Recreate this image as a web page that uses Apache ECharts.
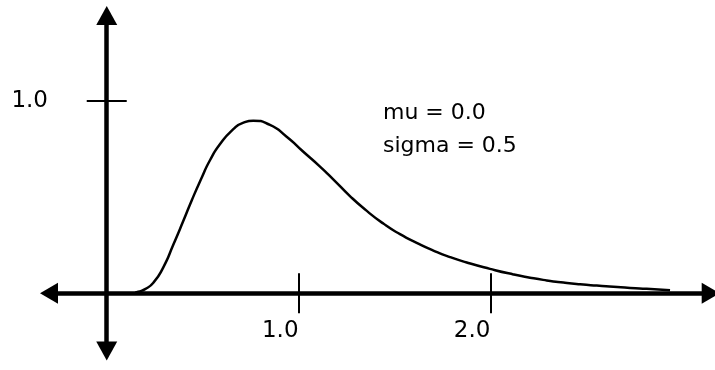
<!DOCTYPE html>
<html>
<head>
<meta charset="utf-8">
<script src="https://cdn.jsdelivr.net/npm/echarts@6/dist/echarts.min.js"></script>
<style>
html,body{margin:0;padding:0;background:#fff;}
#c{width:715px;height:370px;}
</style>
</head>
<body>
<div id="c"></div>
<script>
// values
const xValues = [0.148, 0.165, 0.2, 0.243, 0.295, 0.347, 0.399, 0.443, 0.495, 0.539, 0.591, 0.66, 0.71, 0.764, 0.851, 0.938, 1.025, 1.112, 1.181, 1.268, 1.356, 1.442, 1.529, 1.616, 1.703, 1.79, 1.877, 1.998, 2.12, 2.207, 2.294, 2.381, 2.468, 2.555, 2.642, 2.729, 2.815, 2.937];
const yValues = [0.003, 0.008, 0.022, 0.055, 0.135, 0.252, 0.375, 0.482, 0.6, 0.692, 0.775, 0.852, 0.885, 0.896, 0.874, 0.813, 0.735, 0.658, 0.592, 0.505, 0.428, 0.362, 0.307, 0.262, 0.222, 0.188, 0.16, 0.127, 0.098, 0.081, 0.067, 0.056, 0.047, 0.04, 0.034, 0.028, 0.023, 0.016];
const xTicks = [1, 2];
const yTicks = [1];
const annotation = ['mu = 0.0', 'sigma = 0.5'];

const xMin = -0.301, xMax = 3.149;
const yMin = -0.2996, yMax = 1.4424;
const FONT = 'DejaVu Sans';

const chart = echarts.init(document.getElementById('c'), null, {renderer: 'canvas'});
const fmt = v => Number(v).toFixed(1);

const baseX = {
  type: 'value', min: xMin, max: xMax,
  splitLine: {show: false}
};
const baseY = {
  type: 'value', min: yMin, max: yMax,
  splitLine: {show: false}
};

chart.setOption({
  animation: false,
  backgroundColor: '#fff',
  title: {
    text: annotation.join('\n'),
    left: 383, top: 97, padding: 0,
    textStyle: {fontFamily: FONT, fontSize: 22, fontWeight: 'normal', color: '#000', lineHeight: 33}
  },
  grid: {left: 49, right: 4.3, top: 15.5, bottom: 19, containLabel: false, outerBoundsMode: 'none'},
  xAxis: [
    Object.assign({}, baseX, {
      position: 'bottom',
      axisLine: {show: true, onZero: true, onZeroAxisIndex: 0,
        symbol: ['triangle', 'triangle'], symbolSize: [21, 18],
        lineStyle: {color: '#000', width: 4.5}},
      axisTick: {show: true, customValues: xTicks, length: 20, inside: false,
        lineStyle: {color: '#000', width: 2}},
      axisLabel: {show: true, customValues: xTicks, formatter: fmt, align: 'right',
        verticalAlign: 'top', margin: -31,
        fontFamily: FONT, fontSize: 23, color: '#000'}
    }),
    Object.assign({}, baseX, {
      position: 'top',
      axisLine: {show: false, onZero: true, onZeroAxisIndex: 0},
      axisTick: {show: true, customValues: xTicks, length: 20, inside: false,
        lineStyle: {color: '#000', width: 2}},
      axisLabel: {show: false}
    })
  ],
  yAxis: [
    Object.assign({}, baseY, {
      position: 'left',
      axisLine: {show: true, onZero: true, onZeroAxisIndex: 0,
        symbol: ['triangle', 'triangle'], symbolSize: [21, 19],
        lineStyle: {color: '#000', width: 4.5}},
      axisTick: {show: true, customValues: yTicks, length: 20, inside: false,
        lineStyle: {color: '#000', width: 2}},
      axisLabel: {show: true, customValues: yTicks, formatter: fmt, margin: 1,
        fontFamily: FONT, fontSize: 23, color: '#000'}
    }),
    Object.assign({}, baseY, {
      position: 'right',
      axisLine: {show: false, onZero: true, onZeroAxisIndex: 0},
      axisTick: {show: true, customValues: yTicks, length: 20, inside: false,
        lineStyle: {color: '#000', width: 2}},
      axisLabel: {show: false}
    })
  ],
  series: [{
    type: 'line',
    xAxisIndex: 0, yAxisIndex: 0,
    data: xValues.map((x, i) => [x, yValues[i]]),
    smooth: 0.6,
    showSymbol: false,
    symbol: 'none',
    lineStyle: {color: '#000', width: 2.5},
    z: 1
  }]
});
</script>
</body>
</html>
